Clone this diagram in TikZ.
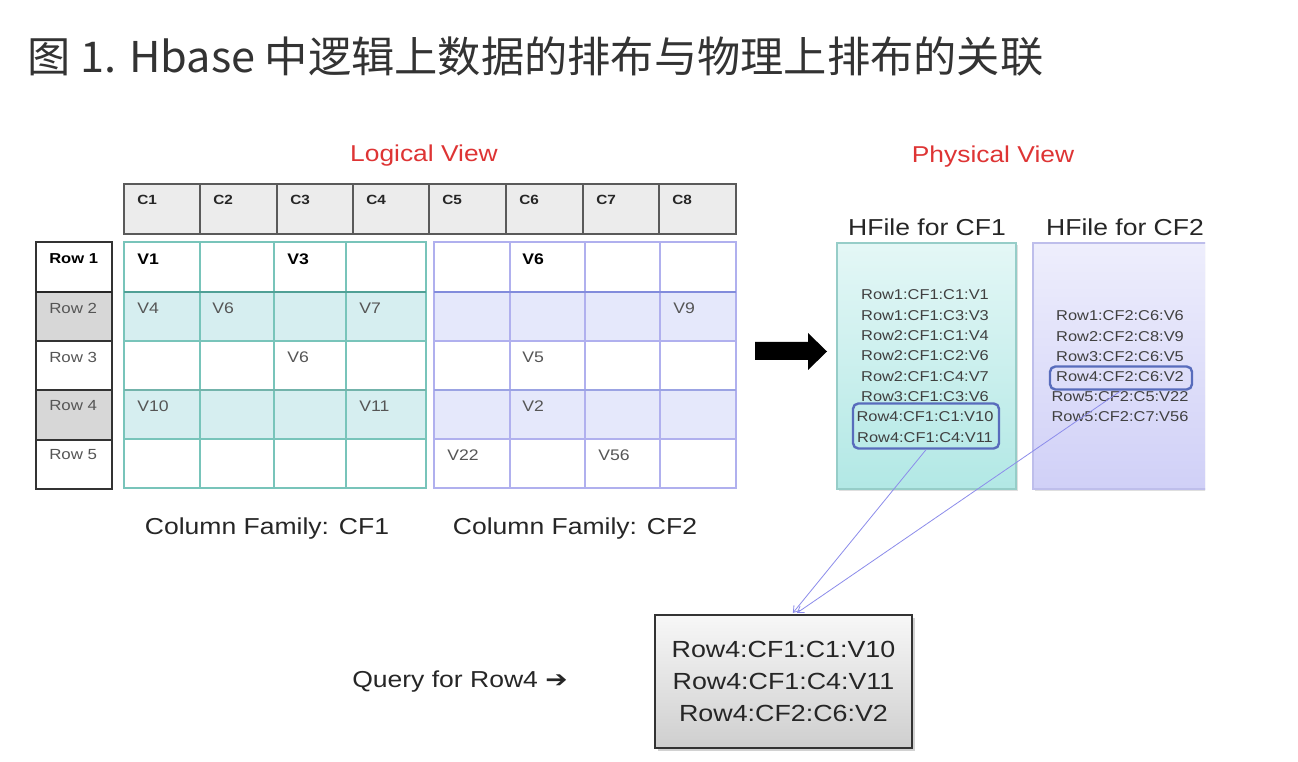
\documentclass[tikz,border=0pt]{standalone}
\usepackage{fontspec}
\setmainfont{Liberation Sans}[FakeStretch=1.15]
\newfontfamily\cjk{Noto Sans CJK SC}[FakeStretch=1.02]
\newfontfamily\dejavu{DejaVu Sans}[FakeStretch=1.15]
\usetikzlibrary{shadows,arrows.meta,calc}
\definecolor{titlegray}{RGB}{51,51,51}
\definecolor{viewred}{RGB}{222,52,52}
\definecolor{hdrfill}{RGB}{236,236,236}
\definecolor{hdrline}{RGB}{90,90,90}
\definecolor{rowgray}{RGB}{215,215,215}
\definecolor{tealline}{RGB}{120,196,186}
\definecolor{tealdark}{RGB}{80,160,150}
\definecolor{tealfill}{RGB}{214,238,240}
\definecolor{lavline}{RGB}{176,176,238}
\definecolor{lavdark}{RGB}{130,140,220}
\definecolor{lavfill}{RGB}{229,232,251}
\definecolor{hfonetop}{RGB}{228,247,246}
\definecolor{hfonebot}{RGB}{178,232,229}
\definecolor{hfoneline}{RGB}{150,205,200}
\definecolor{hftwotop}{RGB}{238,238,252}
\definecolor{hftwobot}{RGB}{208,208,247}
\definecolor{hftwoline}{RGB}{190,190,235}
\definecolor{hlblue}{RGB}{88,108,188}
\definecolor{connblue}{RGB}{140,140,235}
\definecolor{valgray}{RGB}{85,85,85}
\begin{document}
\begin{tikzpicture}[x=0.75pt,y=-0.75pt,
  titletext/.style={anchor=west,inner sep=0,font=\cjk\fontsize{31.8}{36}\selectfont,text=titlegray},
  viewlbl/.style={inner sep=0,font=\fontsize{17.2}{20}\selectfont,text=viewred},
  biglbl/.style={inner sep=0,font=\fontsize{17.3}{20}\selectfont,text=black!85},
  hdrcell/.style={draw=hdrline,line width=1pt,fill=hdrfill},
  hdr/.style={anchor=west,inner sep=0,font=\bfseries\fontsize{10}{11}\selectfont,text=black!85},
  rowcell/.style={draw=black!80,line width=1.1pt},
  rowlbl/.style={anchor=west,inner sep=0,font=\fontsize{11}{12}\selectfont,text=valgray},
  rowlblb/.style={rowlbl,font=\bfseries\fontsize{10.8}{12}\selectfont,text=black},
  val/.style={anchor=west,inner sep=0,font=\fontsize{11.5}{13}\selectfont,text=valgray},
  valb/.style={val,font=\bfseries\fontsize{11.5}{13}\selectfont,text=black},
  recline/.style={inner sep=0,font=\fontsize{10.7}{12}\selectfont,text=black!75},
  hfbox/.style={inner sep=0,line width=0.8pt,drop shadow={opacity=0.25,shadow xshift=1.5pt,shadow yshift=-1.5pt}},
  hlbox/.style={draw=hlblue,line width=1.8pt,rounded corners=4pt,inner sep=0},
  qbox/.style={draw=black!80,line width=1pt,top color=gray!6,bottom color=gray!38,
    minimum width=257*0.75pt,minimum height=133*0.75pt,align=center,inner sep=0,
    font=\fontsize{17.5}{24}\selectfont,text=black!85,
    drop shadow={opacity=0.35,shadow xshift=2pt,shadow yshift=-2pt}},
  conn/.style={draw=connblue,line width=0.6pt,-{Straight Barb[length=4.5pt,width=6pt]}}
]
\useasboundingbox (0,0) rectangle (1298,762);
\fill[white] (0,0) rectangle (1298,762);

% title
\node[titletext] (title) at (27,56) {图 1. Hbase 中逻辑上数据的排布与物理上排布的关联};

% view labels
\node[viewlbl] (logical) at (424,156) {Logical View};
\node[viewlbl] (physical) at (993,157) {Physical View};

% column headers
\foreach \i/\xa/\xb in {1/124/200,2/200/277,3/277/353,4/353/429,5/429/506,6/506/583,7/583/659,8/659/736}{
  \draw[hdrcell] (\xa,184) rectangle (\xb,234);
  \node[hdr] (c\i) at (\xa+13,200) {C\i};
}

% row headers
\foreach \i/\ya/\yb/\f in {1/242/292/white,2/292/341/rowgray,3/341/390/white,4/390/440/rowgray,5/440/489/white}{
  \draw[rowcell,fill=\f] (36,\ya) rectangle (112,\yb);
}
\draw[black!85,line width=2pt] (36,292) -- (112,292);
\node[rowlblb] (r1) at (49,259) {Row 1};
\node[rowlbl] (r2) at (49,308) {Row 2};
\node[rowlbl] (r3) at (49,357) {Row 3};
\node[rowlbl] (r4) at (49,406) {Row 4};
\node[rowlbl] (r5) at (49,455) {Row 5};

% CF1 grid
\fill[tealfill] (124,292) rectangle (426,341);
\fill[tealfill] (124,390) rectangle (426,439);
\draw[tealline,line width=1pt] (124,242) rectangle (426,488);
\foreach \x in {200,274,346}{\draw[tealline,line width=1pt] (\x,242) -- (\x,488);}
\foreach \y in {341,439}{\draw[tealline,line width=1pt] (124,\y) -- (426,\y);}
\draw[tealdark,line width=1.8pt] (124,292) -- (426,292);
\draw[tealdark!80,line width=1.3pt] (124,390) -- (426,390);

% CF2 grid
\fill[lavfill] (434,292) rectangle (736,341);
\fill[lavfill] (434,390) rectangle (736,439);
\draw[lavline,line width=1pt] (434,242) rectangle (736,488);
\foreach \x in {510,585,660}{\draw[lavline,line width=1pt] (\x,242) -- (\x,488);}
\foreach \y in {341,439}{\draw[lavline,line width=1pt] (434,\y) -- (736,\y);}
\draw[lavdark,line width=1.8pt] (434,292) -- (736,292);
\draw[lavdark!80,line width=1.3pt] (434,390) -- (736,390);

% values CF1
\node[valb] (v1) at (137,259) {V1};
\node[valb] (v3) at (287,259) {V3};
\node[val] (v4) at (137,308) {V4};
\node[val] (v6a) at (212,308) {V6};
\node[val] (v7) at (359,308) {V7};
\node[val] (v6b) at (287,357) {V6};
\node[val] (v10) at (137,406) {V10};
\node[val] (v11) at (359,406) {V11};
% values CF2
\node[valb] (v6c) at (522,259) {V6};
\node[val] (v9) at (673,308) {V9};
\node[val] (v5) at (522,357) {V5};
\node[val] (v2) at (522,406) {V2};
\node[val] (v22) at (447,455) {V22};
\node[val] (v56) at (598,455) {V56};

% column family labels
\node[biglbl] (cf1) at (267,529) {Column Family: CF1};
\node[biglbl] (cf2) at (575,529) {Column Family: CF2};

% big arrow
\fill[black] (755,342) -- (808,342) -- (808,333) -- (827,351.5) -- (808,370) -- (808,360) -- (755,360) -- cycle;

% HFile boxes
\node[biglbl] (hft1) at (927,227) {HFile for CF1};
\node[hfbox,draw=hfoneline,top color=hfonetop,bottom color=hfonebot,
  minimum width=179*0.75pt,minimum height=246*0.75pt] (hf1) at (926.5,366) {};
\begin{scope}
\clip (0,0) rectangle (1205,762);
\node[hfbox,draw=hftwoline,top color=hftwotop,bottom color=hftwobot,
  minimum width=190*0.75pt,minimum height=246*0.75pt] (hf2) at (1128,366) {};
\end{scope}
\node[biglbl] (hft2) at (1125,227) {HFile for CF2};

% HFile CF1 records
\foreach \t [count=\k] in {Row1:CF1:C1:V1,Row1:CF1:C3:V3,Row2:CF1:C1:V4,Row2:CF1:C2:V6,Row2:CF1:C4:V7,Row3:CF1:C3:V6,Row4:CF1:C1:V10,Row4:CF1:C4:V11}{
  \node[recline] (a\k) at (925,{295+20.3*(\k-1)}) {\t};
}
% HFile CF2 records
\foreach \t [count=\k] in {Row1:CF2:C6:V6,Row2:CF2:C8:V9,Row3:CF2:C6:V5,Row4:CF2:C6:V2,Row5:CF2:C5:V22,Row5:CF2:C7:V56}{
  \node[recline] (b\k) at (1120,{316+20.2*(\k-1)}) {\t};
}

% highlights
\node[hlbox,minimum width=146*0.75pt,minimum height=45*0.75pt] (hl1) at (926,426) {};
\node[hlbox,minimum width=142*0.75pt,minimum height=23*0.75pt] (hl2) at (1121,378) {};

% query
\node[biglbl,anchor=west] (qlabel) at (352,682) {Query for Row4 {\dejavu\bfseries ➔}};
\node[qbox] (q) at (783.5,681.5) {Row4:CF1:C1:V10\\Row4:CF1:C4:V11\\Row4:CF2:C6:V2};

% connectors
\draw[conn] (hl1.south) -- ([xshift=7pt,yshift=1pt]q.north);
\draw[conn] (hl2.south) -- ([xshift=10pt,yshift=1pt]q.north);
\end{tikzpicture}
\end{document}
